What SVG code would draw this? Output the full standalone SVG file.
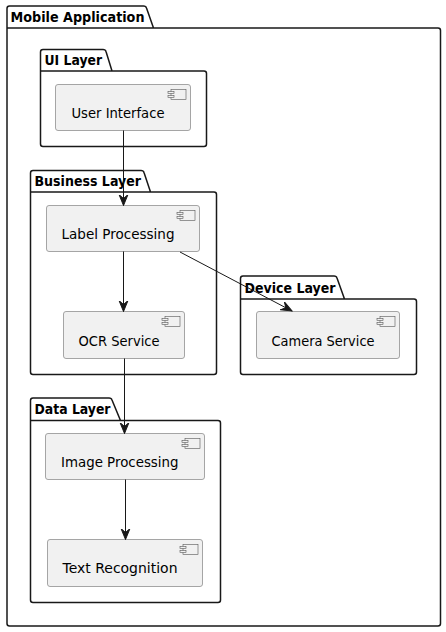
<svg xmlns="http://www.w3.org/2000/svg" width="446" height="632" viewBox="0 0 446 632">
<defs>
<style>
.pkg{fill:none;stroke:#181818;stroke-width:1.5}
.pt{font-family:"DejaVu Sans",sans-serif;font-size:14px;font-weight:bold;fill:#000}
.box{fill:#f1f1f1;stroke:#8f8f8f;stroke-width:.8}
.ic{fill:#f1f1f1;stroke:#555;stroke-width:.6}
.lb{font-family:"DejaVu Sans",sans-serif;font-size:14px;fill:#000}
.cn{fill:none;stroke:#181818;stroke-width:1}
.ah{fill:#181818;stroke:#181818;stroke-width:1}
</style>
<g id="cico"><rect class="ic" x="3" y="0" width="15" height="10"/><rect class="ic" x="0" y="2" width="6" height="2"/><rect class="ic" x="0" y="6" width="6" height="2"/></g>
<marker id="arr" markerUnits="userSpaceOnUse" markerWidth="14" markerHeight="14" viewBox="0 0 14 14" refX="11" refY="6" orient="auto"><path class="ah" d="M0 1.500 L11 6 L0 10.500 L4 6 Z"/></marker>
</defs>
<rect width="446" height="632" fill="#fff"/>
<g id="mobile"><path class="pkg" d="M7 28 V8.500 Q7 6 9.500 6 H143.500 Q146 6 146.500 8 L153.500 28 H438 Q440.500 28 440.500 30.500 V623.500 Q440.500 626 438 626 H9.500 Q7 626 7 623.500 Z M7 28 H153.500"/><text class="pt" x="10.500" y="22" textLength="134" lengthAdjust="spacingAndGlyphs">Mobile Application</text></g>
<g id="ui"><path class="pkg" d="M40.500 71 V52 Q40.500 49.500 43 49.500 H103 Q105.500 49.500 106 51.500 L112 71 H204 Q206.500 71 206.500 73.500 V144 Q206.500 146.500 204 146.500 H43 Q40.500 146.500 40.500 144 Z M40.500 71 H112"/><text class="pt" x="44.500" y="65" textLength="57.500" lengthAdjust="spacingAndGlyphs">UI Layer</text></g>
<g id="business"><path class="pkg" d="M30.500 192 V173 Q30.500 170.500 33 170.500 H141 Q143.500 170.500 144 172.500 L150.500 192 H214 Q216.500 192 216.500 194.500 V372 Q216.500 374.500 214 374.500 H33 Q30.500 374.500 30.500 372 Z M30.500 192 H150.500"/><text class="pt" x="34.500" y="186" textLength="106.500" lengthAdjust="spacingAndGlyphs">Business Layer</text></g>
<g id="device"><path class="pkg" d="M240.500 299 V278.500 Q240.500 276 243 276 H334 Q336.500 276 337 278 L344.500 299 H414 Q416.500 299 416.500 301.500 V372 Q416.500 374.500 414 374.500 H243 Q240.500 374.500 240.500 372 Z M240.500 299 H344.500"/><text class="pt" x="244.500" y="293" textLength="91" lengthAdjust="spacingAndGlyphs">Device Layer</text></g>
<g id="data"><path class="pkg" d="M30.500 420.500 V400.500 Q30.500 398 33 398 H109 Q111.500 398 112 400 L120.500 420.500 H218 Q220.500 420.500 220.500 423 V600 Q220.500 602.500 218 602.500 H33 Q30.500 602.500 30.500 600 Z M30.500 420.500 H120.500"/><text class="pt" x="34.500" y="414" textLength="76" lengthAdjust="spacingAndGlyphs">Data Layer</text></g>
<g id="user-interface"><rect class="box" x="55.500" y="84.500" width="135" height="46" rx="2.500"/><use href="#cico" x="168" y="89.500"/><text class="lb" x="71.500" y="118" textLength="93" lengthAdjust="spacingAndGlyphs">User Interface</text></g>
<g id="label-processing"><rect class="box" x="46.500" y="205.500" width="153" height="46" rx="2.500"/><use href="#cico" x="177" y="210.500"/><text class="lb" x="61.500" y="239" textLength="113" lengthAdjust="spacingAndGlyphs">Label Processing</text></g>
<g id="ocr-service"><rect class="box" x="63.500" y="311.500" width="121" height="47" rx="2.500"/><use href="#cico" x="162" y="316.500"/><text class="lb" x="78.500" y="346" textLength="81" lengthAdjust="spacingAndGlyphs">OCR Service</text></g>
<g id="camera-service"><rect class="box" x="256.500" y="311.500" width="143" height="47" rx="2.500"/><use href="#cico" x="377" y="316.500"/><text class="lb" x="271.500" y="346" textLength="103" lengthAdjust="spacingAndGlyphs">Camera Service</text></g>
<g id="image-processing"><rect class="box" x="45.500" y="433.500" width="159" height="46" rx="2.500"/><use href="#cico" x="182" y="438.500"/><text class="lb" x="61" y="467" textLength="117.500" lengthAdjust="spacingAndGlyphs">Image Processing</text></g>
<g id="text-recognition"><rect class="box" x="47.500" y="539.500" width="155" height="47" rx="2.500"/><use href="#cico" x="180" y="544.500"/><text class="lb" x="62.500" y="573" textLength="115" lengthAdjust="spacingAndGlyphs">Text Recognition</text></g>
<g id="connectors">
<path class="cn" marker-end="url(#arr)" d="M123.500 130.500 V205.500"/>
<path class="cn" marker-end="url(#arr)" d="M123.500 251.500 V311.500"/>
<path class="cn" marker-end="url(#arr)" d="M124.500 358.500 V433.500"/>
<path class="cn" marker-end="url(#arr)" d="M125.500 479.500 V539.500"/>
<path class="cn" marker-end="url(#arr)" d="M180 252 L292 311"/>
</g>
</svg>
